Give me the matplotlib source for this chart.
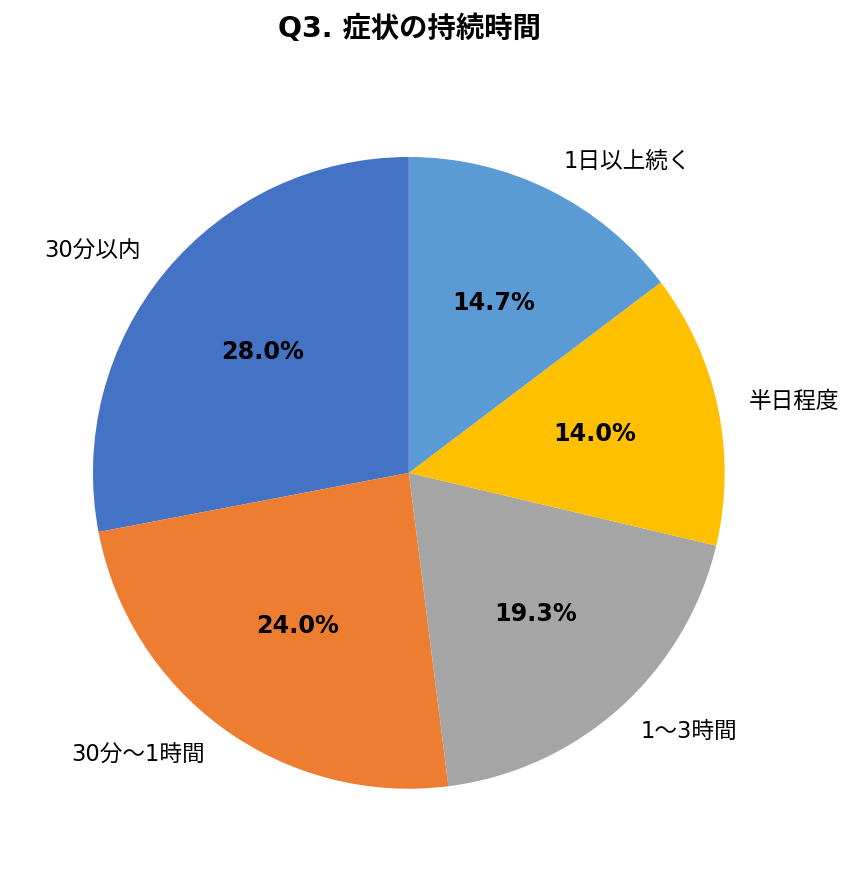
import matplotlib.pyplot as plt

plt.rcParams['font.family'] = ['DejaVu Sans', 'Noto Sans CJK JP']

# data
labels = ['30分以内', '30分～1時間', '1～3時間', '半日程度', '1日以上続く']
values = [28.0, 24.0, 19.3, 14.0, 14.7]
colors = ['#4472C4', '#ED7D31', '#A5A5A5', '#FFC000', '#5B9BD5']

fig = plt.figure(figsize=(8.56, 8.83), dpi=100)
ax = fig.add_axes([0.1086, 0.1065, 0.738, 0.716])

wedges, texts, autotexts = ax.pie(
    values, labels=labels, colors=colors, startangle=90, counterclock=True,
    autopct='%.1f%%', pctdistance=0.6, labeldistance=1.1,
    textprops={'fontsize': 16.3},
)
for t in autotexts:
    t.set_fontsize(17.2)
    t.set_fontweight('bold')

ax.set_xlim(-1, 1)
ax.set_ylim(-1, 1)

fig.text(0.478, 0.968, 'Q3. 症状の持続時間', ha='center', va='center',
         fontsize=20.4, fontweight='bold')

fig.savefig('out.png', dpi=100)
